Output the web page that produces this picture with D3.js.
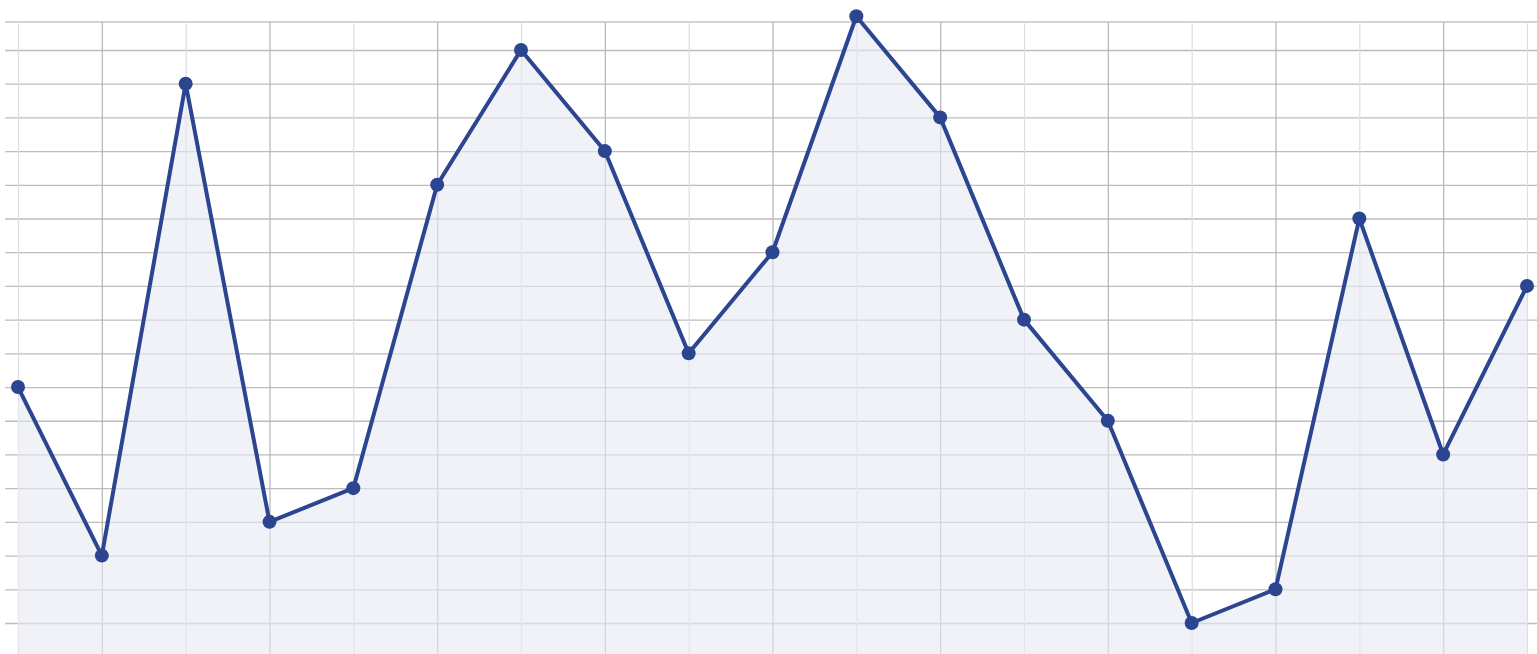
<!DOCTYPE html>
<html>
<head>
<meta charset="utf-8">
<script src="https://cdn.jsdelivr.net/npm/d3@7"></script>
<style>
  body { margin: 0; background: #fff; overflow: hidden; }
</style>
</head>
<body>
<div id="chart"></div>
<script>
// data: one value per vertical grid line
var labels = d3.range(0, 19);
var values = [7, 2, 16, 3, 4, 13, 17, 14, 8, 11, 18, 15, 9, 6, 0, 1, 12, 5, 10];
var yTicks = d3.range(0, 18);

var W = 1537, H = 654;
var margin = {top: 22, right: 10, bottom: 0, left: 18};

var svg = d3.select("#chart")
  .append("svg")
    .attr("width", W)
    .attr("height", H);

// x: one slot per point
var x = d3.scaleLinear()
  .domain([0, labels.length - 1])
  .range([margin.left, W - margin.right]);

// y: grid spacing ~33.7px per unit, plot area 22..654
var y = d3.scaleLinear()
  .domain([-0.92, 17.83])
  .range([H - margin.bottom, margin.top]);

// horizontal grid (with little stubs left of the plot)
svg.append("g")
  .attr("transform", "translate(" + (W) + ",0)")
  .call(d3.axisLeft(y).tickValues(yTicks).tickSize(W - 5).tickFormat(""))
  .call(function(g) { g.select(".domain").remove(); })
  .selectAll("line")
    .attr("stroke", "#bdbdbd")
    .attr("stroke-width", 1.3);

// top border line
svg.append("line")
  .attr("x1", 5).attr("x2", W)
  .attr("y1", y(y.domain()[1])).attr("y2", y(y.domain()[1]))
  .attr("stroke", "#c4c4c4")
  .attr("stroke-width", 1.3);

// vertical grid, odd lines darker
svg.append("g")
  .attr("transform", "translate(0," + H + ")")
  .call(d3.axisBottom(x).tickValues(labels).tickSize(-(H - margin.top)).tickFormat(""))
  .call(function(g) { g.select(".domain").remove(); })
  .selectAll("line")
    .attr("stroke", function(d) { return d % 2 ? "#b4b4b4" : "#dedede"; })
    .attr("stroke-width", 1.2);

// area under the line, semi transparent over the grid
var area = d3.area()
  .x(function(d, i) { return x(i); })
  .y0(H)
  .y1(function(d) { return y(d); });

svg.append("path")
  .datum(values)
  .attr("d", area)
  .attr("fill", "rgb(232,232,243)")
  .attr("fill-opacity", 0.6);

var line = d3.line()
  .x(function(d, i) { return x(i); })
  .y(function(d) { return y(d); });

svg.append("path")
  .datum(values)
  .attr("d", line)
  .attr("fill", "none")
  .attr("stroke", "#2b4590")
  .attr("stroke-width", 4)
  .attr("stroke-linejoin", "round");

svg.selectAll("circle")
  .data(values)
  .enter()
  .append("circle")
    .attr("cx", function(d, i) { return x(i); })
    .attr("cy", function(d) { return y(d); })
    .attr("r", 7)
    .attr("fill", "#2b4590");
</script>
</body>
</html>
